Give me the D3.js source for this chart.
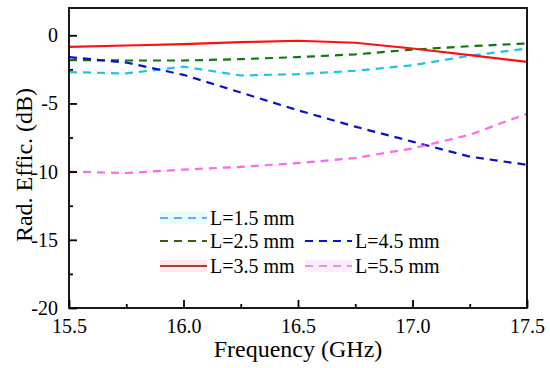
<!DOCTYPE html>
<html>
<head>
<meta charset="utf-8">
<script src="https://cdn.jsdelivr.net/npm/d3@7"></script>
<style>
  body { margin: 0; background: #fff; }
  svg { font-family: "Liberation Serif", "Times New Roman", serif; }
</style>
</head>
<body>
<script>
var freq = [15.5, 15.75, 16.0, 16.25, 16.5, 16.75, 17.0, 17.25, 17.5];
var l15 = [-2.7, -2.8, -2.3, -2.95, -2.85, -2.6, -2.2, -1.5, -0.97];
var l25 = [-1.82, -1.85, -1.85, -1.75, -1.6, -1.4, -1.05, -0.8, -0.6];
var l35 = [-0.85, -0.75, -0.65, -0.5, -0.4, -0.55, -0.97, -1.45, -1.95];
var l45 = [-1.6, -2.0, -2.9, -4.2, -5.5, -6.7, -7.8, -8.9, -9.5];
var l55 = [-10.0, -10.1, -9.85, -9.65, -9.37, -9.0, -8.3, -7.3, -5.75];
var xTicks = [15.5, 16.0, 16.5, 17.0, 17.5];
var yTicks = [0, -5, -10, -15, -20];

var series = [
  {name: "L=1.5 mm", vals: l15, color: "#1ec3e6", dash: "8,6", key: "#7f9fe6", bg: "#e6fbfd", col: 0, row: 0},
  {name: "L=2.5 mm", vals: l25, color: "#0a7a0a", dash: "8,6", key: "#3b5a12", bg: null, col: 0, row: 1},
  {name: "L=4.5 mm", vals: l45, color: "#0a10c8", dash: "8,6", key: "#0a10d8", bg: null, col: 1, row: 1},
  {name: "L=3.5 mm", vals: l35, color: "#ff1010", dash: null, key: "#a0462a", bg: "#fde8f0", col: 0, row: 2},
  {name: "L=5.5 mm", vals: l55, color: "#ff66e8", dash: "8,6", key: "#c8a0f0", bg: "#fcecfa", col: 1, row: 2}
];

var width = 550, height = 368;
var m = {left: 69, right: 23, top: 8, bottom: 60};

var svg = d3.select("body").append("svg")
  .attr("width", width)
  .attr("height", height);

var x = d3.scaleLinear().domain([15.5, 17.5]).range([m.left, width - m.right]);
var y = d3.scaleLinear().domain([-20, 2]).range([height - m.bottom, m.top]);

// series lines
var line = d3.line()
  .x(function(d, i) { return x(freq[i]); })
  .y(function(d) { return y(d); });

svg.append("g").selectAll("path")
  .data(series)
  .enter().append("path")
  .attr("d", function(d) { return line(d.vals); })
  .attr("fill", "none")
  .attr("stroke", function(d) { return d.color; })
  .attr("stroke-width", 2.2)
  .attr("stroke-dasharray", function(d) { return d.dash; });

// axes, ticks inside
var xAxis = d3.axisBottom(x).tickValues(xTicks).tickSize(-8).tickPadding(11)
  .tickFormat(d3.format(".1f"));
var yAxis = d3.axisLeft(y).tickValues(yTicks).tickSize(-8).tickPadding(11)
  .tickFormat(function(d) { return d; });

var gx = svg.append("g").attr("transform", "translate(0," + (height - m.bottom) + ")").call(xAxis);
var gy = svg.append("g").attr("transform", "translate(" + m.left + ",0)").call(yAxis);

gx.append("g").call(d3.axisBottom(x).tickValues([15.75, 16.25, 16.75, 17.25]).tickSize(-4).tickFormat(""));
gy.append("g").call(d3.axisLeft(y).tickValues([-2.5, -7.5, -12.5, -17.5]).tickSize(-4).tickFormat(""));

[gx, gy].forEach(function(g) {
  g.attr("font-family", null);
  g.selectAll(".domain").remove();
  g.selectAll("line").attr("stroke", "#000").attr("stroke-width", 1.8);
  g.selectAll("text").attr("fill", "#000").style("font-size", "20px")
    .style("font-family", "'Liberation Serif', 'Times New Roman', serif");
});

// frame
svg.append("rect")
  .attr("x", m.left).attr("y", m.top)
  .attr("width", width - m.left - m.right)
  .attr("height", height - m.top - m.bottom)
  .attr("fill", "none").attr("stroke", "#000").attr("stroke-width", 1.8);

// axis titles
svg.append("text")
  .attr("x", (m.left + width - m.right) / 2).attr("y", 357)
  .attr("text-anchor", "middle").style("font-size", "24px")
  .text("Frequency (GHz)");

svg.append("text")
  .attr("transform", "translate(32,165) rotate(-90)")
  .attr("text-anchor", "middle").style("font-size", "24px")
  .text("Rad. Effic. (dB)");

// legend
var colX = [160, 305], rowY = [218, 241, 266];
var leg = svg.append("g").selectAll("g")
  .data(series)
  .enter().append("g")
  .attr("transform", function(d) { return "translate(" + colX[d.col] + "," + rowY[d.row] + ")"; });

leg.filter(function(d) { return d.bg; }).append("rect")
  .attr("x", 0).attr("y", -6).attr("width", 47).attr("height", 12)
  .attr("fill", function(d) { return d.bg; });

leg.append("line")
  .attr("x1", 0).attr("x2", 47).attr("y1", 0).attr("y2", 0)
  .attr("stroke", function(d) { return d.key; })
  .attr("stroke-width", 2)
  .attr("stroke-dasharray", function(d) { return d.dash; });

leg.append("text")
  .attr("x", 50).attr("y", 7)
  .style("font-size", "20px")
  .text(function(d) { return d.name; });
</script>
</body>
</html>
